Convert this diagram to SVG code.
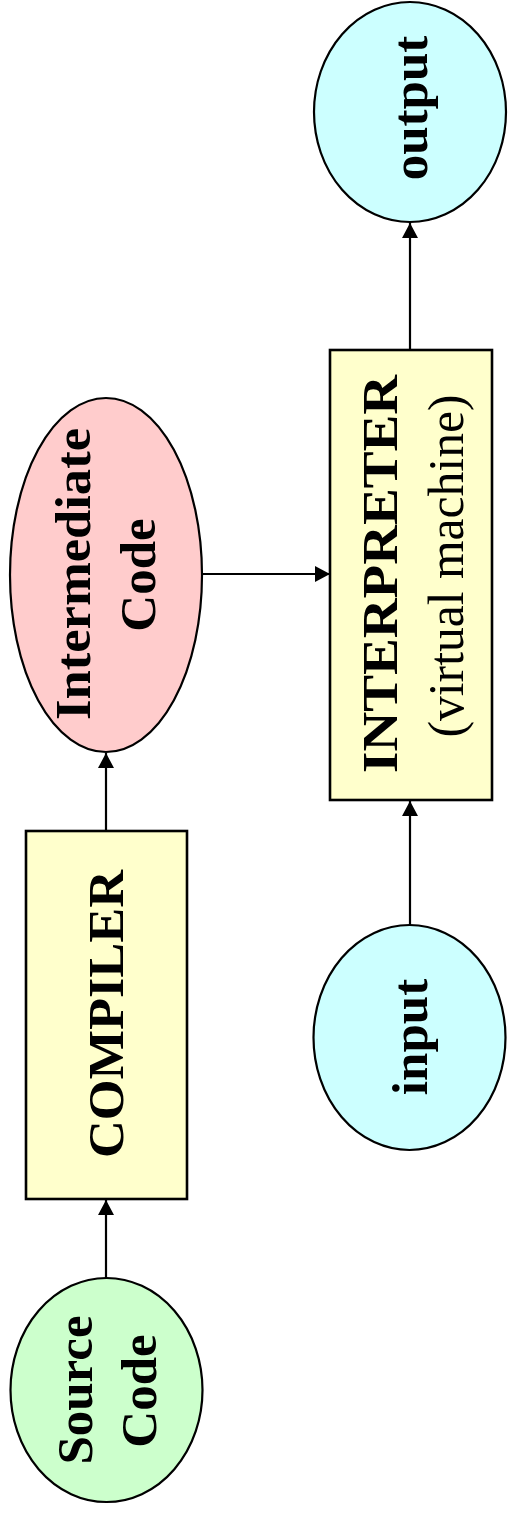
<svg xmlns="http://www.w3.org/2000/svg" width="508" height="1515" viewBox="0 0 508 1515">
  <style>
    .node { stroke: #000; stroke-width: 2.2; }
    .box { stroke: #000; stroke-width: 2.6; fill: #ffffcc; }
    .green { fill: #ccffcc; }
    .pink { fill: #ffcccc; }
    .cyan { fill: #ccffff; }
    .lbl { font-family: "Liberation Serif", "Times New Roman", serif; font-size: 51px; fill: #000; text-anchor: middle; }
    .b { font-weight: bold; }
    .edge { stroke: #000; stroke-width: 2.2; fill: none; marker-end: url(#arrow); }
  </style>
  <defs>
    <marker id="arrow" markerUnits="userSpaceOnUse" markerWidth="16" markerHeight="16" refX="15" refY="8" orient="auto">
      <path d="M0,0 L15,8 L0,16 Z" fill="#000"/>
    </marker>
  </defs>

  <!-- connectors -->
  <g id="connectors">
    <line class="edge" x1="106" y1="1278" x2="106" y2="1200"/>
    <line class="edge" x1="106" y1="831" x2="106" y2="753"/>
    <line class="edge" x1="202" y1="574" x2="330" y2="574"/>
    <line class="edge" x1="410" y1="926" x2="410" y2="801"/>
    <line class="edge" x1="410" y1="350" x2="410" y2="223"/>
  </g>

  <!-- Source Code -->
  <g id="source">
    <ellipse class="node green" cx="106.5" cy="1390" rx="96" ry="112"/>
    <text class="lbl b" transform="translate(92,1390) rotate(-90)">Source</text>
    <text class="lbl b" transform="translate(156,1391) rotate(-90)">Code</text>
  </g>

  <!-- COMPILER -->
  <g id="compiler">
    <rect class="box" x="26" y="831" width="161" height="368"/>
    <text class="lbl b" transform="translate(123,1014) rotate(-90)" textLength="288" lengthAdjust="spacingAndGlyphs">COMPILER</text>
  </g>

  <!-- Intermediate Code -->
  <g id="intermediate">
    <ellipse class="node pink" cx="106" cy="575" rx="96" ry="177"/>
    <text class="lbl b" transform="translate(90,574) rotate(-90)" textLength="292" lengthAdjust="spacingAndGlyphs">Intermediate</text>
    <text class="lbl b" transform="translate(155,575) rotate(-90)">Code</text>
  </g>

  <!-- INTERPRETER -->
  <g id="interpreter">
    <rect class="box" x="330" y="350" width="162" height="450"/>
    <text class="lbl b" transform="translate(397,574) rotate(-90)" textLength="398" lengthAdjust="spacingAndGlyphs">INTERPRETER</text>
    <text class="lbl" transform="translate(463,566) rotate(-90)" textLength="343" lengthAdjust="spacingAndGlyphs">(virtual machine)</text>
  </g>

  <!-- input -->
  <g id="input">
    <ellipse class="node cyan" cx="409.5" cy="1037.5" rx="96" ry="112.5"/>
    <text class="lbl b" transform="translate(427,1037) rotate(-90)">input</text>
  </g>

  <!-- output -->
  <g id="output">
    <ellipse class="node cyan" cx="410" cy="112" rx="96" ry="110"/>
    <text class="lbl b" transform="translate(427,108) rotate(-90)">output</text>
  </g>
</svg>
